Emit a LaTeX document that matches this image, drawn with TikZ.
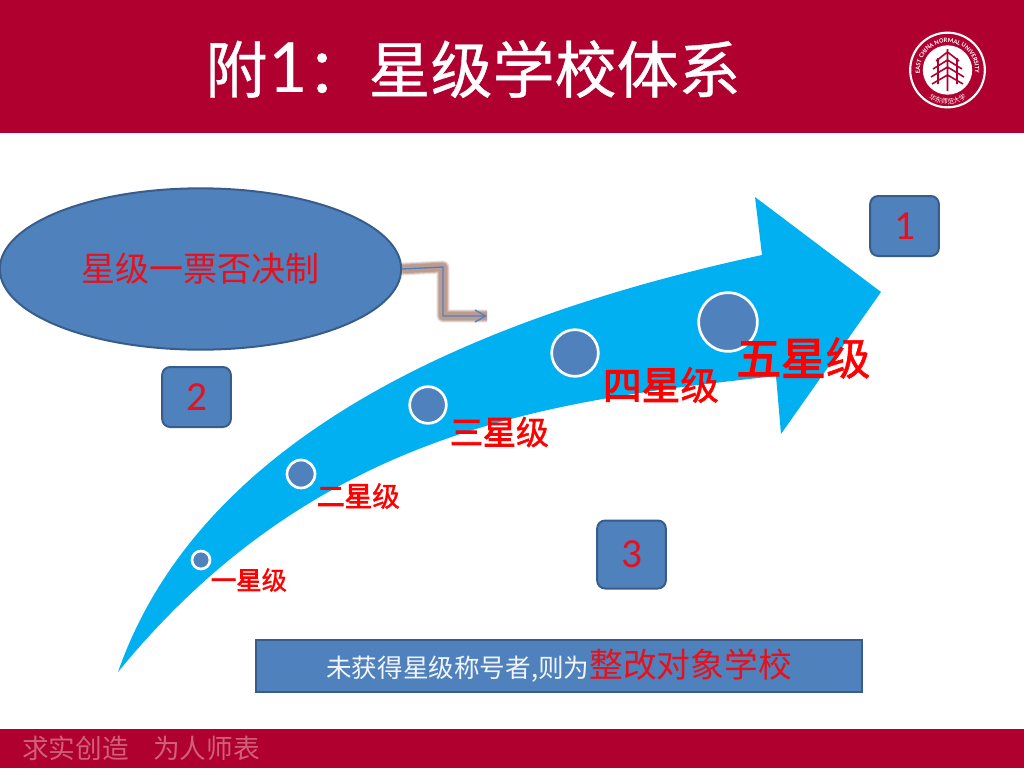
\documentclass[tikz,border=0pt]{standalone}
\usepackage{fontspec}
\setmainfont{Carlito}
\newfontfamily\cjk{Noto Sans CJK SC}
\newfontfamily\cjkt[FakeBold=0.6]{Noto Sans CJK SC}
\newfontfamily\cjkh[FakeBold=3]{Noto Sans CJK SC}
\newfontfamily\cjkm[FakeBold=1.2]{Noto Sans CJK SC}
\newcommand{\starword}[1]{{\cjkh #1星}{\cjkm 级}}
\usetikzlibrary{arrows.meta,decorations.text,shapes.geometric}
\definecolor{crim}{HTML}{B00030}
\definecolor{boxblue}{HTML}{4F81BD}
\definecolor{boxedge}{HTML}{385D8A}
\definecolor{sky}{HTML}{00B0F0}
\definecolor{shade}{HTML}{A5796B}
\definecolor{foot}{HTML}{D0607A}
\definecolor{redtext}{HTML}{E8101A}
\tikzset{
 numbox/.style={draw=boxedge,line width=1.5pt,fill=boxblue,rounded corners=6pt,minimum width=51.5pt,minimum height=45pt,inner sep=0pt,text=redtext,font=\fontsize{31}{31}\selectfont},
 dot/.style={circle,draw=white,line width=2pt,fill=boxblue,inner sep=0pt},
 starlab/.style={text=red,inner sep=0pt},
 glow/.style={draw=shade,line join=round},
}
\begin{document}
\begin{tikzpicture}[x=0.75pt,y=-0.75pt]
\useasboundingbox (0,0) rectangle (1024,768);
\fill[white] (0,0) rectangle (1024,768);
\fill[crim] (0,0) rectangle (1024,133);
\fill[crim] (0,729) rectangle (1024,768);
\node[text=white,inner sep=0pt,font=\fontsize{46.5}{46.5}\selectfont] (title) at (473,69) {{\cjkt 附}{\fontsize{58}{58}\selectfont 1}{\cjkt ：星级学校体系}};
% logo
\node[circle,draw=white,line width=1.6pt,minimum size=56pt,inner sep=0pt] (logoa) at (947.5,70) {};
\node[circle,fill=white,minimum size=37pt,inner sep=0pt] (logob) at (947.5,70) {};
\path[postaction={decorate,decoration={text along path,text align=center,text={|\fontsize{4.9}{5}\selectfont\bfseries\color{white}|EAST CHINA NORMAL UNIVERSITY}}}]
 (947.5,70) ++(150:27.5) arc[start angle=150,end angle=390,radius=27.5];
\path[postaction={decorate,decoration={text along path,text align=center,text={|\cjk\fontsize{5}{5}\selectfont\color{white}|华东师范大学}}}]
 (947.5,70) ++(128:34) arc[start angle=128,end angle=52,radius=34];
\draw[crim,line width=1.2pt] (947.5,49)--(947.5,91)
 (947.5,52)--(936,61) (947.5,52)--(959,61)
 (947.5,60)--(933,69) (947.5,60)--(962,69)
 (947.5,67)--(931,77) (947.5,67)--(964,77)
 (947.5,75)--(932,84) (947.5,75)--(963,84)
 (938,58)--(938,84) (957,58)--(957,84);
% footer
\node[text=foot,inner sep=0pt,font=\cjk\fontsize{20}{20}\selectfont] (motto) at (75.5,748) {求实创造};
\node[text=foot,inner sep=0pt,font=\cjk\fontsize{20}{20}\selectfont] (mottob) at (206.5,748) {为人师表};
% big arrow
\fill[sky] (118,672)
 .. controls (185,480) and (390,335) .. (762,255)
 -- (755,197) -- (881,292) -- (781,434) -- (776,376)
 .. controls (560,400) and (320,425) .. (118,672) -- cycle;
% dots
\node[dot,minimum size=13.5pt] (d1) at (201,560) {};
\node[dot,minimum size=21pt] (d2) at (301,474) {};
\node[dot,minimum size=27.5pt] (d3) at (428,405) {};
\node[dot,minimum size=35pt] (d4) at (575,353) {};
\node[dot,minimum size=44pt] (d5) at (728,322) {};
\node[starlab,font=\fontsize{19}{19}\selectfont] (s1) at (249,580) {\starword{一}};
\node[starlab,font=\fontsize{20.75}{20.75}\selectfont] (s2) at (358.5,496) {\starword{二}};
\node[starlab,font=\fontsize{24.75}{24.75}\selectfont] (s3) at (499.5,432) {\starword{三}};
\node[starlab,font=\fontsize{29}{29}\selectfont] (s4) at (661,385) {\starword{四}};
\node[starlab,font=\fontsize{33.5}{33.5}\selectfont] (s5) at (803.5,358) {\starword{五}};
% ellipse
\node[ellipse,draw=boxedge,line width=1.5pt,fill=boxblue,minimum width=301pt,minimum height=121pt,inner sep=0pt,text=redtext,font=\cjk\fontsize{25.5}{25.5}\selectfont] (ell) at (200.5,269) {星级一票否决制};
\coordinate (cend) at (487,316);
\coordinate (cbend) at (443,267);
% connector glow
\foreach \w/\o in {9.5/0.25,8/0.35,6.5/0.45}{
 \draw[glow,line width=\w pt,opacity=\o] (ell.east) -- (cbend) |- (cend);
}
\draw[boxblue,line width=1pt,-{Straight Barb[length=8pt,width=9pt]}] (ell.east) -- (cbend) |- (cend);
% boxes
\node[numbox] (b1) at (904.5,226) {1};
\node[numbox] (b2) at (196.5,397) {2};
\node[numbox,minimum height=51pt] (b3) at (631.5,554.5) {3};
\node[draw=boxedge,line width=1.5pt,fill=boxblue,minimum width=455pt,minimum height=39pt,inner sep=0pt] (note) at (559,666) {\cjk\fontsize{19.2}{19}\selectfont\textcolor{white!92!boxblue}{未获得星级称号者,则为}\textcolor{redtext}{\fontsize{25.3}{25.3}\selectfont 整改对象学校}};
\end{tikzpicture}
\end{document}
